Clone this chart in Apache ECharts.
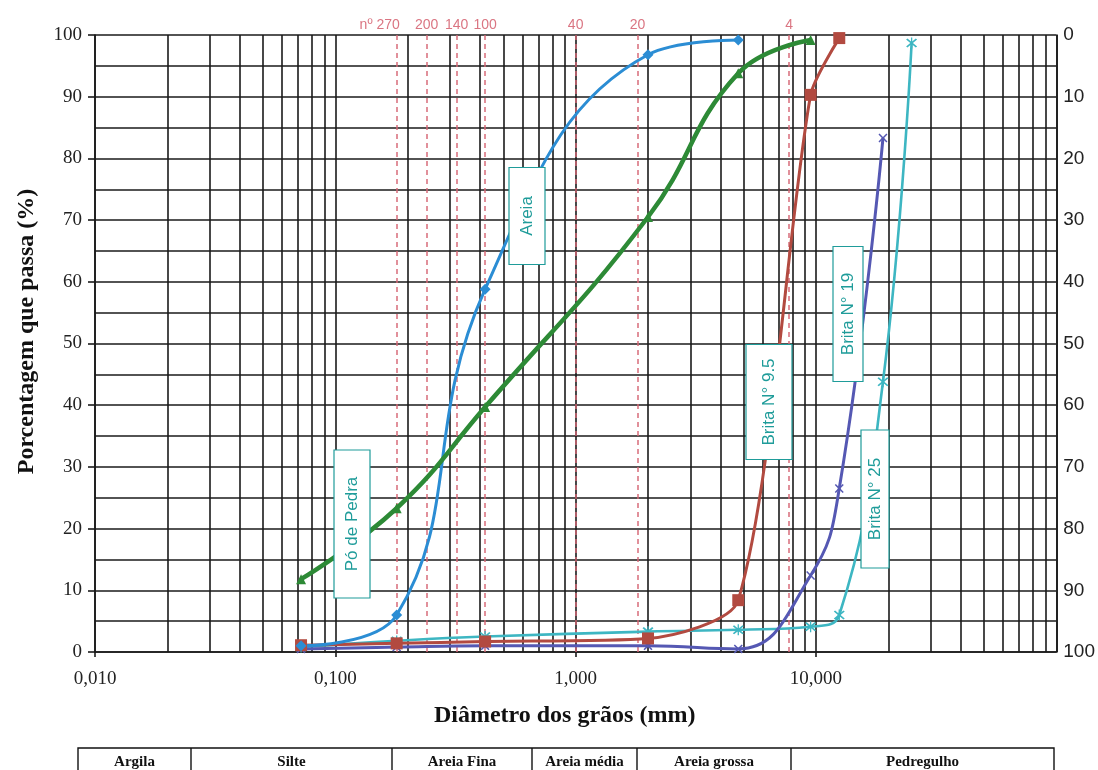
<!DOCTYPE html>
<html>
<head>
<meta charset="utf-8">
<title>Curvas granulométricas</title>
<script src="https://cdn.jsdelivr.net/npm/echarts@6/dist/echarts.min.js"></script>
<style>
  html, body { margin: 0; padding: 0; background: #ffffff; }
  #chart { width: 1098px; height: 770px; }
</style>
</head>
<body>
<div id="chart"></div>
<script>
// Sieve openings (mm) where the passing percentages were measured
const sizesMm = [0.072, 0.18, 0.42, 2.0, 4.75, 9.5, 12.5, 19, 25];

// Percentage passing for each material (first n sieves of sizesMm)
const areia     = [1.0, 6.0, 58.8, 96.8, 99.2];
const poDePedra = [11.8, 23.3, 39.7, 70.5, 93.8, 99.2];
const brita95   = [1.1, 1.4, 1.7, 2.2, 8.4, 90.3, 99.5];
const brita19   = [0.5, 0.8, 1.0, 1.0, 0.5, 12.4, 26.5, 83.3];
const brita25   = [0.8, 1.8, 2.5, 3.3, 3.6, 4.1, 6.0, 43.8, 98.7];

// Reference sieve lines drawn across the chart
const sieveLabels = ['nº 270', '200', '140', '100', '40', '20', '4'];
const sieveSizes  = [0.18, 0.237, 0.322, 0.425, 1.0, 1.81, 7.74];

// Soil classification strip under the chart
const soilClasses = ['Argila', 'Silte', 'Areia Fina', 'Areia média', 'Areia grossa', 'Pedregulho'];

// ---------------------------------------------------------------------------
const SERIF = "'Liberation Serif', 'Times New Roman', 'DejaVu Serif', serif";
const SANS = "'Liberation Sans', Arial, 'DejaVu Sans', sans-serif";
const GRID_COLOR = '#1a1a1a';
const GRID_WIDTH = 1.6;
const SIEVE_COLOR = '#d66674';
const NOTE_COLOR = '#1f9c9a';

const pairs = (vals) => vals.map((v, i) => [sizesMm[i], v]);

// minor vertical gridlines of the log axis (2..9 in each decade)
const minorX = [];
for (let e = -2; e <= 1; e++) {
  for (let m = 2; m <= 9; m++) minorX.push({ xAxis: m * Math.pow(10, e) });
}

const sieveLabelPadding = { 'nº 270': [0, 34, 0, 0] };

function materialSeries(name, vals, color, width, symbol, symbolSize, extra) {
  return Object.assign({
    name, type: 'line', data: pairs(vals), smooth: 0.45,
    symbol, symbolSize, showSymbol: true,
    lineStyle: { color, width },
    itemStyle: { color, borderWidth: 0 },
    z: 5, animation: false
  }, extra || {});
}

const X_MARK = 'path://M0,1.2 L1.2,0 L5,3.8 L8.8,0 L10,1.2 L6.2,5 L10,8.8 L8.8,10 L5,6.2 L1.2,10 L0,8.8 L3.8,5 Z';
const STAR_MARK = X_MARK + ' M4.4,-1 L5.6,-1 L5.6,11 L4.4,11 Z';

const option = {
  backgroundColor: '#ffffff',
  animation: false,
  grid: { left: 95, right: 41, top: 35, bottom: 118, containLabel: false },
  xAxis: {
    type: 'log', logBase: 10, min: 0.01, max: 100,
    name: 'Diâmetro dos grãos (mm)', nameLocation: 'middle', nameGap: 52,
    nameTextStyle: { fontFamily: SERIF, fontSize: 24, fontWeight: 'bold', color: '#111', padding: [0, 22, 0, 0] },
    axisLine: { show: true, lineStyle: { color: GRID_COLOR, width: GRID_WIDTH } },
    axisTick: { show: true, length: 5, lineStyle: { color: GRID_COLOR, width: GRID_WIDTH } },
    axisLabel: {
      showMaxLabel: false, margin: 18, fontFamily: SERIF, fontSize: 19, color: '#222',
      formatter: (v) => Number(v).toFixed(3).replace('.', ',')
    },
    splitLine: { show: true, lineStyle: { color: GRID_COLOR, width: GRID_WIDTH } }
  },
  yAxis: [
    {
      type: 'value', min: 0, max: 100, interval: 10, position: 'left',
      name: 'Porcentagem que passa (%)', nameLocation: 'middle', nameGap: 56,
      nameTextStyle: { fontFamily: SERIF, fontSize: 24, fontWeight: 'bold', color: '#111', padding: [0, 0, 0, 24] },
      axisLine: { show: true, lineStyle: { color: GRID_COLOR, width: GRID_WIDTH } },
      axisTick: { show: true, length: 7, lineStyle: { color: GRID_COLOR, width: GRID_WIDTH } },
      axisLabel: { margin: 13, fontFamily: SERIF, fontSize: 19, color: '#222' },
      splitLine: { show: true, lineStyle: { color: GRID_COLOR, width: GRID_WIDTH } },
      minorTick: { show: false, splitNumber: 2 },
      minorSplitLine: { show: true, lineStyle: { color: GRID_COLOR, width: GRID_WIDTH } }
    },
    {
      type: 'value', min: 0, max: 100, interval: 10, position: 'right', inverse: true,
      axisLine: { show: true, lineStyle: { color: GRID_COLOR, width: GRID_WIDTH } },
      axisTick: { show: false },
      axisLabel: { margin: 7, fontFamily: SANS, fontSize: 19, color: '#222', padding: [8, 0, 0, 0] },
      splitLine: { show: false }
    }
  ],
  series: [
    {
      name: 'grade', type: 'line', data: [], silent: true, z: 1,
      markLine: {
        silent: true, symbol: ['none', 'none'], animation: false,
        label: { show: false },
        lineStyle: { color: GRID_COLOR, width: GRID_WIDTH, type: 'solid' },
        emphasis: { disabled: true },
        data: minorX
      }
    },
    {
      name: 'peneiras', type: 'line', data: [], silent: true, z: 2,
      markLine: {
        silent: true, symbol: ['none', 'none'], animation: false,
        lineStyle: { color: SIEVE_COLOR, width: 1.6, type: [5, 4], opacity: 0.9 },
        emphasis: { disabled: true },
        label: {
          show: true, position: 'end', distance: 3, color: SIEVE_COLOR,
          fontFamily: SANS, fontSize: 14
        },
        data: sieveSizes.map((s, i) => ({
          xAxis: s,
          label: {
            formatter: sieveLabels[i],
            padding: sieveLabelPadding[sieveLabels[i]] || [0, 0, 0, 0]
          }
        }))
      }
    },
    materialSeries('Brita N° 25', brita25, '#3db6c2', 2.6, STAR_MARK, 11),
    materialSeries('Brita N° 19', brita19, '#5558b3', 3, X_MARK, 9),
    materialSeries('Brita N° 9.5', brita95, '#b24a40', 3, 'rect', 12, { smooth: 0.25 }),
    materialSeries('Areia', areia, '#2b8dd4', 3, 'diamond', 11),
    materialSeries('Pó de Pedra', poDePedra, '#2d8a36', 4.5, 'triangle', 10)
  ]
};

// Callout boxes naming each curve (rotated text)
const callouts = [
  { text: 'Areia',        cx: 527, cy: 216, w: 36, h: 97 },
  { text: 'Pó de Pedra',  cx: 352, cy: 524, w: 36, h: 148 },
  { text: 'Brita N° 9.5', cx: 769, cy: 402, w: 46, h: 115 },
  { text: 'Brita N° 19',  cx: 848, cy: 314, w: 30, h: 135 },
  { text: 'Brita N° 25',  cx: 875, cy: 499, w: 28, h: 138 }
];

const graphics = [];
callouts.forEach((c) => {
  graphics.push({
    type: 'rect', z: 50, silent: true,
    shape: { x: c.cx - c.w / 2, y: c.cy - c.h / 2, width: c.w, height: c.h },
    style: { fill: '#ffffff', stroke: NOTE_COLOR, lineWidth: 1.2 }
  });
  graphics.push({
    type: 'text', z: 51, silent: true, x: c.cx, y: c.cy, rotation: Math.PI / 2,
    style: {
      text: c.text, fill: NOTE_COLOR, font: '17px ' + SANS,
      align: 'center', verticalAlign: 'middle'
    }
  });
});

// Classification strip: column edges in page pixels
const stripEdges = [78, 191, 392, 532, 637, 791, 1054];
const stripTop = 748;
graphics.push({
  type: 'rect', z: 20, silent: true,
  shape: { x: stripEdges[0], y: stripTop, width: stripEdges[6] - stripEdges[0], height: 50 },
  style: { fill: 'none', stroke: '#111', lineWidth: 1.4 }
});
for (let i = 1; i < stripEdges.length - 1; i++) {
  graphics.push({
    type: 'line', z: 20, silent: true,
    shape: { x1: stripEdges[i], y1: stripTop, x2: stripEdges[i], y2: stripTop + 50 },
    style: { stroke: '#111', lineWidth: 1.4 }
  });
}
soilClasses.forEach((name, i) => {
  graphics.push({
    type: 'text', z: 21, silent: true,
    x: (stripEdges[i] + stripEdges[i + 1]) / 2, y: stripTop + 14,
    style: {
      text: name, fill: '#111', font: 'bold 15px ' + SERIF,
      align: 'center', verticalAlign: 'middle'
    }
  });
});
option.graphic = graphics;

const chart = echarts.init(document.getElementById('chart'), null, { renderer: 'canvas' });
chart.setOption(option);
</script>
</body>
</html>
